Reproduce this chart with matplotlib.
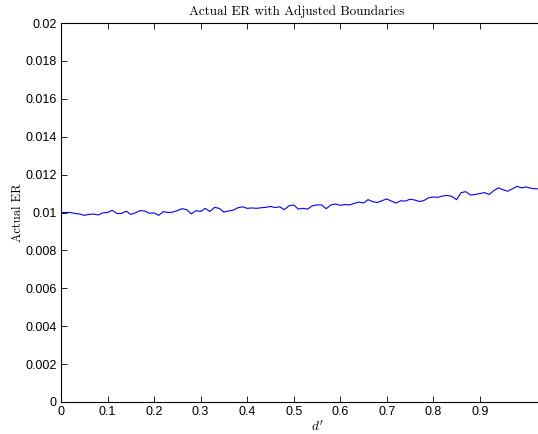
import numpy as np
import matplotlib
matplotlib.use("Agg")
import matplotlib.pyplot as plt

# actual error rate per d' value (step 0.01)
dprime = np.round(np.arange(0, 1.04, 0.01), 2)
actual_er = [
    0.01000, 0.01000, 0.01000, 0.00995, 0.00992, 0.00985, 0.00990, 0.00992, 0.00987, 0.00998,
    0.01000, 0.01012, 0.00995, 0.00995, 0.01007, 0.00990, 0.00998, 0.01010, 0.01008, 0.00996,
    0.00998, 0.00985, 0.01005, 0.01000, 0.01002, 0.01010, 0.01020, 0.01015, 0.00993, 0.01010,
    0.01005, 0.01022, 0.01005, 0.01027, 0.01022, 0.01002, 0.01008, 0.01012, 0.01025, 0.01030,
    0.01022, 0.01024, 0.01022, 0.01025, 0.01027, 0.01032, 0.01026, 0.01030, 0.01015, 0.01035,
    0.01040, 0.01018, 0.01022, 0.01018, 0.01035, 0.01040, 0.01040, 0.01020, 0.01040, 0.01045,
    0.01038, 0.01042, 0.01040, 0.01048, 0.01055, 0.01050, 0.01068, 0.01057, 0.01053, 0.01062,
    0.01072, 0.01060, 0.01050, 0.01062, 0.01060, 0.01070, 0.01066, 0.01058, 0.01063, 0.01078,
    0.01082, 0.01080, 0.01087, 0.01090, 0.01085, 0.01068, 0.01105, 0.01110, 0.01092, 0.01095,
    0.01100, 0.01105, 0.01095, 0.01115, 0.01130, 0.01120, 0.01112, 0.01125, 0.01138, 0.01130,
    0.01135, 0.01128, 0.01125, 0.01125,
]
xticks = [0, 0.1, 0.2, 0.3, 0.4, 0.5, 0.6, 0.7, 0.8, 0.9]
xticklabels = ["0", "0.1", "0.2", "0.3", "0.4", "0.5", "0.6", "0.7", "0.8", "0.9"]
yticks = [0, 0.002, 0.004, 0.006, 0.008, 0.01, 0.012, 0.014, 0.016, 0.018, 0.02]
yticklabels = ["0", "0.002", "0.004", "0.006", "0.008", "0.01", "0.012",
               "0.014", "0.016", "0.018", "0.02"]

plt.rcParams["mathtext.fontset"] = "cm"
W, H = 538, 434
fig = plt.figure(figsize=(W / 100, H / 100), dpi=100)
xmax = 1.1
ax = fig.add_axes([61 / W, 32 / H, 465.3 * xmax / W, 379 / H])

ax.plot(dprime, actual_er, color="#0000ff", lw=0.8)
ax.set_xlim(0, xmax)
ax.set_ylim(0, 0.02)
ax.set_xticks(xticks)
ax.set_xticklabels(xticklabels, family="Liberation Sans", fontsize=9)
ax.set_yticks(yticks)
ax.set_yticklabels(yticklabels, family="Liberation Sans", fontsize=9)
ax.tick_params(direction="in", length=4, width=0.6, top=True, right=True, pad=3)
for s in ax.spines.values():
    s.set_linewidth(0.8)

# title centred over the visible part of the axes
ax.set_title("Actual ER with Adjusted Boundaries", family="cmr10", fontsize=9.5,
             x=(297 - 61) / (465.3 * xmax), pad=6)
ax.set_xlabel("$d'$", fontsize=9.5, labelpad=1)
ax.set_ylabel("Actual ER", family="cmr10", fontsize=9, labelpad=1)

fig.savefig("out.png", dpi=100)
